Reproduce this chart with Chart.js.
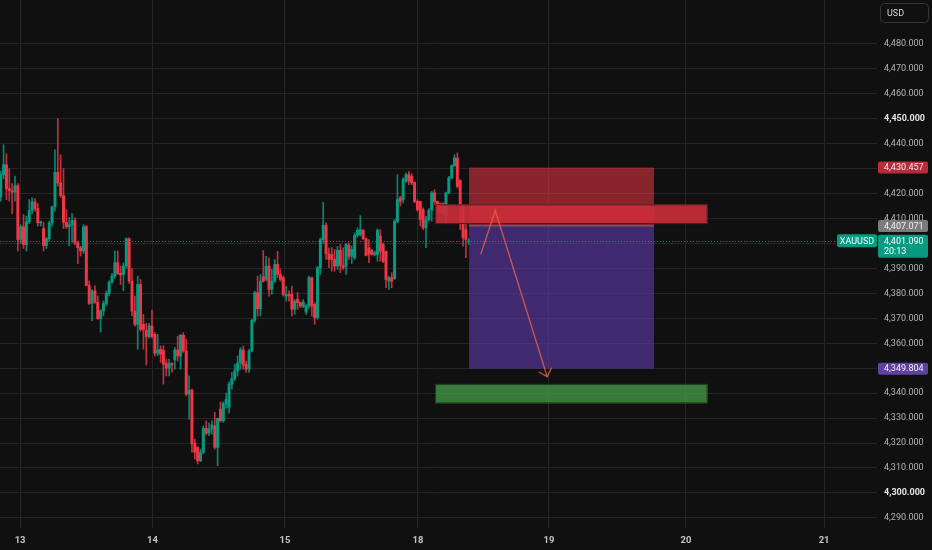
<!DOCTYPE html>
<html>
<head>
<meta charset="utf-8">
<script src="https://cdn.jsdelivr.net/npm/chart.js@4.4.1/dist/chart.umd.min.js"></script>
<style>
  html, body { margin: 0; padding: 0; background: #101010; }
  #wrap { width: 932px; height: 550px; position: relative; }
</style>
</head>
<body>
<div id="wrap"><canvas id="chart"></canvas></div>
<script>
// 30 min XAUUSD candles
var opens = [
  4418.7, 4427.6, 4431.6, 4422.0, 4421.2, 4420.6, 4423.2, 4401.6, 4406.7, 4399.6,
  4408.7, 4413.2, 4416.7, 4414.0, 4408.3, 4406.0, 4399.2, 4401.9, 4408.3, 4414.7,
  4428.5, 4424.3, 4419.2, 4408.5, 4406.7, 4407.6, 4409.2, 4400.3, 4398.3, 4397.0,
  4406.7, 4383.2, 4376.0, 4381.0, 4376.5, 4369.9, 4373.0, 4376.0, 4380.0, 4384.5,
  4387.0, 4392.3, 4388.0, 4387.6, 4391.0, 4401.9, 4384.9, 4372.9, 4367.6, 4383.6,
  4367.6, 4365.2, 4362.7, 4366.9, 4363.6, 4356.0, 4357.6, 4357.2, 4352.0, 4350.0,
  4352.0, 4353.3, 4357.3, 4354.9, 4363.2, 4356.9, 4339.6, 4341.2, 4320.0, 4318.3,
  4312.9, 4316.3, 4325.9, 4323.9, 4325.6, 4326.9, 4318.3, 4333.6, 4328.9, 4335.9,
  4334.3, 4343.6, 4345.9, 4349.0, 4352.0, 4357.3, 4351.6, 4349.6, 4356.9, 4369.2,
  4380.3, 4373.9, 4386.7, 4385.6, 4390.9, 4381.6, 4384.9, 4391.6, 4387.6, 4386.3,
  4378.9, 4379.6, 4379.6, 4373.6, 4377.6, 4376.3, 4374.9, 4372.5, 4374.9, 4386.3,
  4375.6, 4370.3, 4390.3, 4401.6, 4407.3, 4395.9, 4395.6, 4393.6, 4390.9, 4397.3,
  4391.2, 4390.9, 4399.2, 4394.9, 4394.3, 4403.3, 4403.6, 4405.3, 4401.9, 4398.3,
  4397.3, 4395.6, 4395.6, 4403.0, 4399.6, 4396.9, 4384.9, 4386.3, 4385.9, 4408.9,
  4418.3, 4417.6, 4425.0, 4427.6, 4427.0, 4424.5, 4416.9, 4416.9, 4413.6, 4406.3,
  4409.6, 4413.3, 4420.3, 4416.9, 4416.0, 4416.0, 4410.9, 4420.3, 4426.3, 4431.2,
  4434.3, 4425.3, 4415.2, 4405.6, 4400.6
];
var highs = [
  4429.0, 4439.6, 4436.0, 4430.0, 4424.0, 4427.0, 4424.0, 4407.5, 4411.6, 4411.0,
  4417.6, 4418.3, 4418.0, 4416.0, 4409.0, 4408.5, 4402.5, 4409.0, 4415.0, 4437.6,
  4450.0, 4435.6, 4430.0, 4413.6, 4410.5, 4412.0, 4410.3, 4401.0, 4399.0, 4407.6,
  4407.3, 4385.0, 4381.5, 4383.0, 4379.0, 4373.5, 4377.0, 4381.0, 4385.0, 4388.0,
  4397.0, 4397.0, 4391.0, 4392.3, 4402.3, 4402.3, 4389.9, 4378.9, 4386.9, 4385.6,
  4371.6, 4368.0, 4368.0, 4373.3, 4364.3, 4363.6, 4359.0, 4359.0, 4353.6, 4353.6,
  4352.2, 4358.3, 4362.9, 4363.6, 4364.3, 4361.6, 4346.9, 4341.6, 4321.6, 4318.5,
  4317.6, 4326.9, 4328.9, 4328.0, 4328.9, 4332.3, 4330.0, 4336.5, 4336.5, 4340.0,
  4344.5, 4348.3, 4351.6, 4354.9, 4358.3, 4358.9, 4352.9, 4357.6, 4369.6, 4380.9,
  4386.9, 4387.6, 4397.2, 4394.9, 4394.3, 4389.6, 4393.6, 4396.9, 4389.6, 4386.9,
  4382.9, 4381.0, 4382.9, 4377.6, 4380.3, 4376.6, 4377.5, 4375.5, 4386.9, 4386.6,
  4376.3, 4390.9, 4402.3, 4416.5, 4408.3, 4398.3, 4398.3, 4397.6, 4398.9, 4399.6,
  4398.3, 4400.0, 4400.3, 4399.0, 4404.3, 4406.3, 4411.2, 4405.6, 4402.3, 4401.6,
  4397.6, 4397.0, 4405.9, 4405.6, 4400.3, 4397.0, 4386.9, 4388.3, 4409.6, 4427.6,
  4419.0, 4426.3, 4428.3, 4428.9, 4428.0, 4424.8, 4417.6, 4417.0, 4414.3, 4410.9,
  4414.0, 4420.9, 4421.6, 4417.0, 4416.3, 4416.3, 4420.6, 4426.9, 4431.6, 4435.6,
  4436.3, 4425.6, 4415.6, 4408.3, 4401.9
];
var lows = [
  4417.0, 4426.0, 4417.6, 4417.0, 4412.0, 4417.0, 4397.0, 4400.0, 4398.0, 4397.0,
  4408.0, 4412.0, 4413.0, 4407.0, 4407.0, 4397.0, 4398.0, 4401.0, 4407.0, 4413.0,
  4423.0, 4418.5, 4406.0, 4406.0, 4399.0, 4400.5, 4399.5, 4392.0, 4395.0, 4396.0,
  4383.0, 4375.5, 4369.0, 4376.0, 4369.5, 4364.5, 4371.0, 4375.0, 4379.0, 4384.0,
  4386.0, 4387.5, 4383.6, 4381.0, 4390.0, 4384.0, 4371.0, 4366.9, 4357.6, 4364.9,
  4357.6, 4351.3, 4362.0, 4362.0, 4354.9, 4355.0, 4352.3, 4343.6, 4346.9, 4346.9,
  4348.3, 4349.6, 4352.9, 4349.6, 4356.3, 4338.9, 4329.6, 4316.3, 4313.6, 4311.6,
  4312.5, 4315.6, 4323.2, 4323.0, 4323.6, 4317.6, 4310.9, 4328.3, 4328.3, 4334.0,
  4332.0, 4341.6, 4345.0, 4346.9, 4349.6, 4349.6, 4348.3, 4348.3, 4356.5, 4368.3,
  4370.9, 4370.9, 4384.5, 4385.0, 4378.9, 4379.6, 4384.3, 4386.3, 4384.9, 4378.9,
  4376.9, 4376.9, 4370.9, 4371.6, 4373.6, 4374.3, 4374.3, 4371.6, 4374.0, 4370.9,
  4367.6, 4369.6, 4387.6, 4400.0, 4393.6, 4390.3, 4388.9, 4388.9, 4389.6, 4388.3,
  4389.6, 4387.6, 4393.6, 4392.0, 4393.6, 4402.5, 4403.0, 4401.6, 4395.0, 4392.3,
  4395.3, 4395.0, 4392.9, 4392.9, 4392.3, 4382.3, 4381.6, 4382.3, 4385.6, 4408.3,
  4415.0, 4416.3, 4424.5, 4423.6, 4423.6, 4416.3, 4413.0, 4407.0, 4405.6, 4398.3,
  4409.0, 4409.0, 4415.6, 4413.6, 4412.3, 4411.6, 4408.3, 4420.0, 4425.9, 4430.9,
  4422.3, 4405.6, 4398.9, 4394.3, 4399.6
];
var closes = [
  4427.6, 4431.6, 4422.0, 4421.2, 4420.6, 4423.2, 4401.6, 4406.7, 4399.6, 4408.7,
  4413.2, 4416.7, 4414.0, 4408.3, 4408.8, 4399.2, 4401.9, 4408.3, 4414.7, 4428.5,
  4424.3, 4419.2, 4408.5, 4406.7, 4407.6, 4409.2, 4400.3, 4398.3, 4397.0, 4406.7,
  4383.2, 4376.0, 4381.0, 4376.5, 4369.9, 4373.0, 4376.0, 4380.0, 4384.5, 4387.0,
  4392.3, 4388.0, 4387.4, 4391.0, 4401.9, 4384.9, 4372.9, 4367.6, 4383.6, 4365.6,
  4365.6, 4362.7, 4366.9, 4362.7, 4356.0, 4357.3, 4355.6, 4351.6, 4350.0, 4352.0,
  4351.3, 4357.3, 4354.9, 4363.2, 4356.9, 4339.6, 4341.2, 4319.6, 4316.3, 4312.9,
  4316.3, 4325.9, 4323.9, 4325.6, 4327.3, 4318.3, 4329.9, 4328.9, 4335.9, 4337.5,
  4343.7, 4345.9, 4349.0, 4352.0, 4357.3, 4351.2, 4349.6, 4356.9, 4369.2, 4380.3,
  4373.9, 4384.9, 4384.9, 4390.9, 4381.6, 4384.9, 4391.6, 4387.6, 4385.6, 4379.6,
  4379.6, 4378.9, 4373.6, 4376.9, 4376.3, 4374.9, 4376.5, 4374.9, 4386.3, 4374.9,
  4370.3, 4390.3, 4401.6, 4407.3, 4395.9, 4393.6, 4393.6, 4390.9, 4397.3, 4391.2,
  4390.3, 4399.6, 4394.9, 4397.6, 4403.3, 4405.3, 4405.6, 4401.9, 4395.2, 4395.6,
  4395.6, 4396.3, 4405.3, 4396.9, 4392.9, 4385.6, 4386.3, 4385.0, 4408.9, 4417.6,
  4416.9, 4425.6, 4427.6, 4424.9, 4424.3, 4416.9, 4413.6, 4409.6, 4406.3, 4409.6,
  4413.3, 4420.3, 4416.9, 4414.9, 4412.9, 4412.0, 4420.3, 4426.3, 4431.2, 4434.3,
  4422.9, 4415.2, 4402.3, 4401.6, 4401.09
];

// bar index where each day starts (weekend skipped), and its label
var dayTicks = [6.8, 53.2, 99.6, 146.2, 192.1, 240.1, 288.5];
var dayLabels = ['13', '14', '15', '18', '19', '20', '21'];
var priceTicks = [4290, 4300, 4310, 4320, 4330, 4340, 4350, 4360, 4370, 4380,
                  4390, 4400, 4410, 4420, 4430, 4440, 4450, 4460, 4470, 4480];

var symbol = 'XAUUSD';
var lastPrice = 4401.09;
var countdown = '20:13';

// short position tool + drawn zones
var stopLevel = 4430.457;
var entryLevel = 4407.071;
var targetLevel = 4349.804;
var positionSpan = [164.1, 228.9];
var sellZone = [4407.8, 4415.7];
var buyZone = [4335.9, 4343.7];
var zoneSpan = [152.2, 247.7];
var arrowPath = [[168.2, 4395.7], [173.3, 4413.2], [191.5, 4346.6]];

var UP = '#089981';
var DOWN = '#f23645';
var FONT = 'Roboto, "Liberation Sans", sans-serif';

var candleColors = closes.map(function (c, i) {
    return c >= opens[i] ? UP : DOWN;
});
var wickColors = closes.map(function (c, i) {
    return c >= opens[i] ? 'rgba(8,153,129,0.85)' : 'rgba(242,54,69,0.8)';
});
var wickData = lows.map(function (l, i) {
    return {x: i, y: [l, highs[i]]};
});
var bodyData = opens.map(function (o, i) {
    return {x: i, y: [o, closes[i]]};
});

function fmtPrice(v, d) {
    return v.toLocaleString('en-US', {minimumFractionDigits: d, maximumFractionDigits: d});
}

function tag(ctx, left, top, w, h, bg) {
    ctx.fillStyle = bg;
    ctx.beginPath();
    ctx.roundRect(left, top, w, h, 2);
    ctx.fill();
}

var overlay = {
    id: 'overlay',
    beforeDraw: function (chart) {
        var ctx = chart.ctx;
        ctx.save();
        ctx.fillStyle = '#101010';
        ctx.fillRect(0, 0, chart.width, chart.height);
        ctx.restore();
    },
    afterDatasetsDraw: function (chart) {
        var ctx = chart.ctx, sx = chart.scales.x, sy = chart.scales.y, a = chart.chartArea;
        var px = function (v) { return sx.getPixelForValue(v); };
        var py = function (v) { return sy.getPixelForValue(v); };
        ctx.save();
        ctx.beginPath();
        ctx.rect(a.left, a.top, a.right - a.left, a.bottom - a.top);
        ctx.clip();

        // stop and target boxes of the position tool
        var bx0 = px(positionSpan[0]), bx1 = px(positionSpan[1]);
        ctx.fillStyle = 'rgba(242,54,69,0.53)';
        ctx.fillRect(bx0, py(stopLevel), bx1 - bx0, py(entryLevel) - py(stopLevel));
        ctx.fillStyle = 'rgba(96,59,173,0.6)';
        ctx.fillRect(bx0, py(entryLevel), bx1 - bx0, py(targetLevel) - py(entryLevel));
        ctx.strokeStyle = '#77707f';
        ctx.lineWidth = 1;
        ctx.beginPath();
        ctx.moveTo(bx0, py(entryLevel));
        ctx.lineTo(bx1, py(entryLevel));
        ctx.stroke();

        // zones
        var zx0 = px(zoneSpan[0]), zx1 = px(zoneSpan[1]);
        ctx.fillStyle = 'rgba(203,45,57,0.9)';
        ctx.fillRect(zx0, py(sellZone[1]), zx1 - zx0, py(sellZone[0]) - py(sellZone[1]));
        ctx.strokeStyle = '#4a1c22';
        ctx.strokeRect(zx0 + 0.5, py(sellZone[1]) + 0.5, zx1 - zx0 - 1, py(sellZone[0]) - py(sellZone[1]) - 1);
        ctx.fillStyle = 'rgba(69,157,72,0.75)';
        ctx.fillRect(zx0, py(buyZone[1]), zx1 - zx0, py(buyZone[0]) - py(buyZone[1]));
        ctx.strokeStyle = '#1d3a1e';
        ctx.strokeRect(zx0 + 0.5, py(buyZone[1]) + 0.5, zx1 - zx0 - 1, py(buyZone[0]) - py(buyZone[1]) - 1);

        // arrow
        ctx.strokeStyle = 'rgba(226,96,74,0.8)';
        ctx.lineWidth = 1.4;
        ctx.beginPath();
        arrowPath.forEach(function (p, i) {
            if (i === 0) ctx.moveTo(px(p[0]), py(p[1]));
            else ctx.lineTo(px(p[0]), py(p[1]));
        });
        ctx.stroke();
        var n = arrowPath.length;
        var tx = px(arrowPath[n - 1][0]), ty = py(arrowPath[n - 1][1]);
        var ang = Math.atan2(ty - py(arrowPath[n - 2][1]), tx - px(arrowPath[n - 2][0])) + Math.PI;
        ctx.beginPath();
        ctx.moveTo(tx + 10 * Math.cos(ang - 0.75), ty + 10 * Math.sin(ang - 0.75));
        ctx.lineTo(tx, ty);
        ctx.lineTo(tx + 10 * Math.cos(ang + 0.75), ty + 10 * Math.sin(ang + 0.75));
        ctx.stroke();

        // last price line
        ctx.strokeStyle = 'rgba(8,153,129,0.9)';
        ctx.lineWidth = 1;
        ctx.setLineDash([1, 2]);
        ctx.beginPath();
        ctx.moveTo(a.left, Math.round(py(lastPrice)) + 0.5);
        ctx.lineTo(a.right, Math.round(py(lastPrice)) + 0.5);
        ctx.stroke();
        ctx.restore();
    },
    afterDraw: function (chart) {
        var ctx = chart.ctx, sy = chart.scales.y, a = chart.chartArea;
        var left = a.right + 1, w = 50;
        ctx.save();
        ctx.font = '9px ' + FONT;
        ctx.textBaseline = 'middle';
        ctx.textAlign = 'left';

        var levels = [[stopLevel, '#b82b38'], [entryLevel, '#7b7b7b'], [targetLevel, '#5f419f']];
        levels.forEach(function (l) {
            var y = sy.getPixelForValue(l[0]);
            tag(ctx, left, y - 6, w, 12, l[1]);
            ctx.fillStyle = '#f0f0f0';
            ctx.fillText(fmtPrice(l[0], 3), left + 6, y + 0.5);
        });

        var yl = sy.getPixelForValue(lastPrice);
        tag(ctx, left, yl - 6, w, 23, UP);
        ctx.fillStyle = '#ffffff';
        ctx.fillText(fmtPrice(lastPrice, 3), left + 6, yl + 0.5);
        ctx.fillText(countdown, left + 6, yl + 11);

        tag(ctx, a.right - 40, yl - 6.5, 40, 13, UP);
        ctx.fillStyle = '#ffffff';
        ctx.textAlign = 'center';
        ctx.fillText(symbol, a.right - 20, yl + 0.5);

        // currency button
        ctx.strokeStyle = '#363636';
        ctx.lineWidth = 1;
        ctx.beginPath();
        ctx.roundRect(880.5, 3.5, 48, 19, 4);
        ctx.stroke();
        ctx.fillStyle = '#d8d8d8';
        ctx.textAlign = 'left';
        ctx.fillText('USD', 887, 13.5);
        ctx.restore();
    }
};

new Chart(document.getElementById('chart'), {
    type: 'bar',
    data: {
        datasets: [
            {data: wickData, backgroundColor: wickColors, barThickness: 1, grouped: false, order: 2},
            {data: bodyData, backgroundColor: candleColors, barThickness: 2.3, grouped: false, minBarLength: 1, order: 1}
        ]
    },
    options: {
        responsive: true,
        maintainAspectRatio: false,
        animation: false,
        layout: {padding: 0},
        plugins: {legend: {display: false}, tooltip: {enabled: false}},
        scales: {
            x: {
                type: 'linear',
                min: -0.25,
                max: 307.04,
                offset: false,
                grid: {color: '#262626', drawTicks: false, offset: false},
                border: {display: false},
                afterBuildTicks: function (s) {
                    s.ticks = dayTicks.map(function (v) { return {value: v}; });
                },
                afterFit: function (s) {
                    s.height = 22;
                    s.paddingLeft = 0; s.paddingRight = 0;
                },
                ticks: {
                    autoSkip: false,
                    maxRotation: 0,
                    padding: 7,
                    color: '#c4c4c4',
                    font: {family: FONT, size: 9.5, weight: 'bold'},
                    callback: function (v, i) { return dayLabels[i]; }
                }
            },
            y: {
                position: 'right',
                min: 4285.93,
                max: 4497.64,
                grid: {color: '#262626', drawTicks: false},
                border: {display: false},
                afterBuildTicks: function (s) {
                    s.ticks = priceTicks.map(function (v) { return {value: v}; });
                },
                afterFit: function (s) {
                    s.width = 55;
                    s.paddingTop = 0; s.paddingBottom = 0;
                },
                ticks: {
                    padding: 7,
                    color: function (c) {
                        return c.tick && c.tick.value % 50 === 0 ? '#e4e4e4' : '#b4b4b4';
                    },
                    font: function (c) {
                        var big = c.tick && c.tick.value % 50 === 0;
                        return {family: FONT, size: 9, weight: big ? 'bold' : 'normal'};
                    },
                    callback: function (v) { return fmtPrice(v, 3); }
                }
            }
        }
    },
    plugins: [overlay]
});
</script>
</body>
</html>
